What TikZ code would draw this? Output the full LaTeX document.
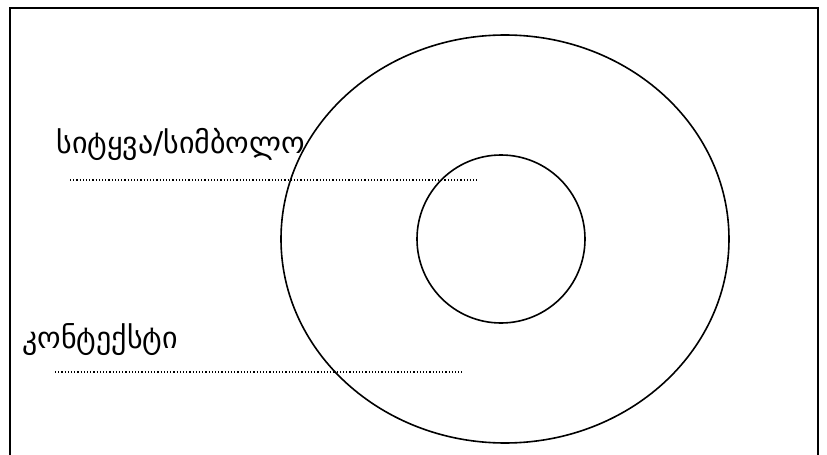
\documentclass[tikz,border=0pt]{standalone}
\usepackage{fontspec}
\newfontfamily\geofont{DejaVu Sans}
\usetikzlibrary{shapes.geometric}
\begin{document}
\begin{tikzpicture}[x=0.5pt, y=-0.5pt, every node/.style={font=\geofont\fontsize{15}{17}\selectfont}]
\tikzset{ring/.style={draw, line width=0.8pt, inner sep=0pt}, guide/.style={line width=0.6pt, dash pattern=on 0.6pt off 1pt}, label/.style={anchor=base west, inner sep=0pt}}
\useasboundingbox (0,0) rectangle (827,455);
% frame
\draw[line width=1pt] (10,455) -- (10,8) -- (818,8) -- (818,455);
% rings
\node[ring, ellipse, minimum width=224pt, minimum height=204pt] (outer) at (505,239) {};
\node[ring, circle, minimum size=84pt] (inner) at (501,239) {};
% labels
\node[label] (word) at (56,154) {სიტყვა/სიმბოლო};
\node[label] (context) at (22,348) {კონტექსტი};
% dotted lines
\coordinate (w1) at (70,180); \coordinate (w2) at (477,180);
\coordinate (c1) at (55,372); \coordinate (c2) at (462,372);
\draw[guide] (w1) -- (w2);
\draw[guide] (c1) -- (c2);
\end{tikzpicture}
\end{document}
